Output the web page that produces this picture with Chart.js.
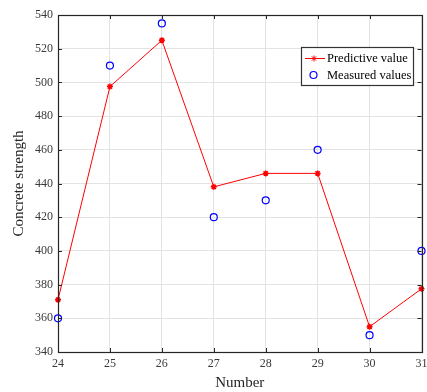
<!DOCTYPE html>
<html>
<head>
<meta charset="utf-8">
<script src="https://cdn.jsdelivr.net/npm/chart.js@4/dist/chart.umd.min.js"></script>
<style>
  html, body { margin: 0; padding: 0; background: #fff; }
  #wrap { width: 427px; height: 392px; position: relative; }
</style>
</head>
<body>
<div id="wrap"><canvas id="c"></canvas></div>
<script>
// sample numbers on the x axis
const numbers   = [24, 25, 26, 27, 28, 29, 30, 31];
const predicted = [371, 497.5, 525, 438, 446, 446, 355, 377.5];
const measured  = [360, 510, 535, 420, 430, 460, 350, 400];

const SERIF = '"Liberation Serif", "Times New Roman", serif';
const AXIS  = '#262626';
const TICK  = '#3a3a3a';

// frame round the plot area with short inward ticks, MATLAB style
const boxPlugin = {
  id: 'box',
  afterDraw(chart) {
    const { ctx, chartArea: a, scales: { x, y } } = chart;
    ctx.save();
    ctx.strokeStyle = AXIS;
    ctx.lineWidth = 1;
    ctx.beginPath();
    x.ticks.forEach(t => {
      const px = Math.round(x.getPixelForValue(t.value)) + 0.5;
      ctx.moveTo(px, a.top); ctx.lineTo(px, a.top + 4);
      ctx.moveTo(px, a.bottom); ctx.lineTo(px, a.bottom - 4);
    });
    y.ticks.forEach(t => {
      const py = Math.round(y.getPixelForValue(t.value)) + 0.5;
      ctx.moveTo(a.left, py); ctx.lineTo(a.left + 4, py);
      ctx.moveTo(a.right, py); ctx.lineTo(a.right - 4, py);
    });
    ctx.stroke();
    ctx.lineWidth = 1.2;
    ctx.strokeRect(Math.round(a.left) + 0.5, Math.round(a.top) + 0.5,
                   Math.round(a.right - a.left), Math.round(a.bottom - a.top));
    ctx.restore();
  }
};

// legend box in the upper right of the axes
const legendPlugin = {
  id: 'boxLegend',
  afterDraw(chart) {
    const { ctx } = chart;
    const ds = chart.data.datasets;
    const bx = 301, by = 47, bw = 112, bh = 38;
    ctx.save();
    ctx.fillStyle = '#fff';
    ctx.fillRect(bx, by, bw, bh);
    ctx.strokeStyle = '#333';
    ctx.lineWidth = 1.2;
    ctx.strokeRect(bx + 0.5, by + 0.5, bw, bh);

    ctx.font = '12.5px ' + SERIF;
    ctx.fillStyle = '#000';
    ctx.textBaseline = 'middle';

    // predictive entry: line + star marker
    const y1 = 58;
    ctx.strokeStyle = ds[0].borderColor;
    ctx.fillStyle = ds[0].borderColor;
    ctx.lineWidth = 1;
    ctx.beginPath(); ctx.moveTo(305, y1 + 0.5); ctx.lineTo(325, y1 + 0.5); ctx.stroke();
    Chart.helpers.drawPoint(ctx, {
      pointStyle: 'star', radius: 3, borderWidth: 1.5
    }, 314, y1 + 0.5);
    ctx.fillStyle = '#000';
    ctx.fillText(ds[0].label, 327, y1 + 1);

    // measured entry: open circle
    const y2 = 75;
    ctx.strokeStyle = ds[1].borderColor;
    ctx.lineWidth = 1.2;
    ctx.beginPath(); ctx.arc(313.5, y2, 3.5, 0, Math.PI * 2); ctx.stroke();
    ctx.fillText(ds[1].label, 327, y2 + 1);
    ctx.restore();
  }
};

new Chart(document.getElementById('c'), {
  type: 'scatter',
  data: {
    datasets: [
      {
        label: 'Predictive value',
        data: numbers.map((n, i) => ({ x: n, y: predicted[i] })),
        showLine: true,
        borderColor: '#ff0000',
        backgroundColor: '#ff0000',
        borderWidth: 1,
        pointStyle: 'star',
        pointRadius: 3,
        pointBorderWidth: 1.5,
        clip: false
      },
      {
        label: 'Measured values',
        data: numbers.map((n, i) => ({ x: n, y: measured[i] })),
        showLine: false,
        borderColor: '#0000ff',
        backgroundColor: 'rgba(0,0,0,0)',
        pointStyle: 'circle',
        pointRadius: 3.5,
        pointBorderWidth: 1.2,
        clip: false
      }
    ]
  },
  options: {
    responsive: true,
    maintainAspectRatio: false,
    animation: false,
    layout: { padding: { top: 15, right: 4, left: 0, bottom: 0 } },
    plugins: { legend: { display: false }, tooltip: { enabled: false } },
    scales: {
      x: {
        type: 'linear', min: 24, max: 31,
        ticks: { stepSize: 1, color: TICK, padding: 5, font: { family: SERIF, size: 12 } },
        grid: { color: '#e3e3e3', drawTicks: false },
        border: { display: false },
        title: { display: true, text: 'Number', color: AXIS, padding: { top: 2, bottom: 0 },
                 font: { family: SERIF, size: 15 } },
        afterFit(s) { s.height = 40; s.paddingLeft = 0; s.paddingRight = 0; }
      },
      y: {
        type: 'linear', min: 340, max: 540,
        ticks: { stepSize: 20, color: TICK, padding: 5, font: { family: SERIF, size: 12 } },
        grid: { color: '#e3e3e3', drawTicks: false },
        border: { display: false },
        title: { display: true, text: 'Concrete strength', color: AXIS, padding: { top: 10, bottom: 0 },
                 font: { family: SERIF, size: 15 } },
        afterFit(s) { s.width = 58; s.paddingTop = 0; s.paddingBottom = 0; }
      }
    }
  },
  plugins: [boxPlugin, legendPlugin]
});
</script>
</body>
</html>
